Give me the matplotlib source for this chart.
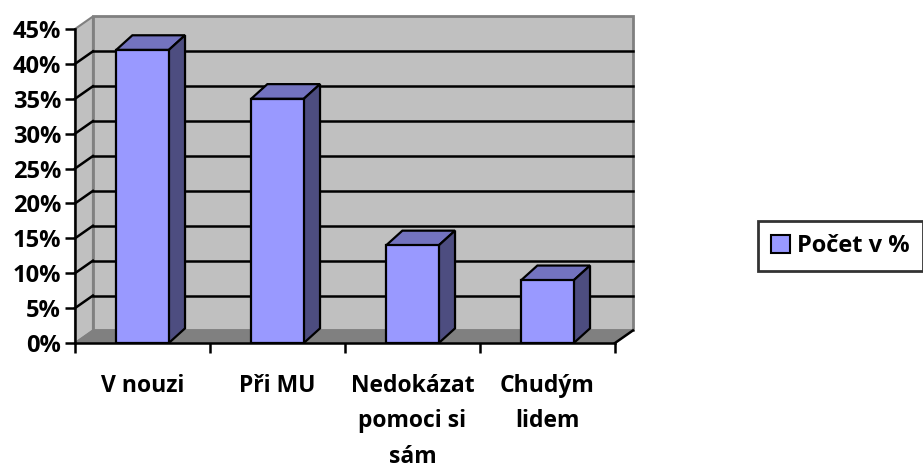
import matplotlib.pyplot as plt
from matplotlib.patches import Polygon, Rectangle, Patch

# Chart data
categories = ["V nouzi", "Při MU", "Nedokázat\npomoci si\nsám", "Chudým\nlidem"]
values = [42, 35, 14, 9]
y_ticks = [0, 5, 10, 15, 20, 25, 30, 35, 40, 45]
legend_label = "Počet v %"

plt.rcParams["font.family"] = ["Open Sans", "DejaVu Sans"]
plt.rcParams["font.weight"] = "bold"

fig = plt.figure(figsize=(9.23, 4.70), dpi=100)
ax = fig.add_axes([75 / 923, 127 / 470, 540 / 923, 314 / 470])

n = len(categories)
ax.set_xlim(0, n)
ax.set_ylim(0, 45)

# depth of the 3D effect in data units
wall_dx, wall_dy = 0.133, 1.8
bar_dx, bar_dy = 0.12, 2.1
bar_w = 0.39

wall_gray = "#c0c0c0"
floor_gray = "#808080"
edge_gray = "#808080"

# left wall
ax.add_patch(Polygon([(0, 0), (wall_dx, wall_dy), (wall_dx, 45 + wall_dy), (0, 45)],
                     closed=True, facecolor=wall_gray, edgecolor=edge_gray,
                     lw=1.5, clip_on=False, zorder=1))
# back wall
ax.add_patch(Rectangle((wall_dx, wall_dy), n, 45, facecolor=wall_gray,
                       edgecolor=edge_gray, lw=2, clip_on=False, zorder=1))
# floor
ax.add_patch(Polygon([(0, 0), (n, 0), (n + wall_dx, wall_dy), (wall_dx, wall_dy)],
                     closed=True, facecolor=floor_gray, edgecolor=edge_gray,
                     lw=1, clip_on=False, zorder=1.5))
ax.plot([n, n + wall_dx], [0, wall_dy], color="black", lw=1.8,
        clip_on=False, zorder=2)

# gridlines on back wall and left wall
for v in y_ticks[1:-1]:
    ax.plot([wall_dx, n + wall_dx], [v + wall_dy, v + wall_dy],
            color="black", lw=1.8, clip_on=False, zorder=2)
    ax.plot([0, wall_dx], [v, v + wall_dy], color="black", lw=1.8,
            clip_on=False, zorder=2)

# bars
x = [i + 0.5 for i in range(n)]
ax.bar(x, values, width=bar_w, color="#9999ff", edgecolor="black",
       lw=1.6, zorder=4)
for xi, v in zip(x, values):
    left = xi - bar_w / 2
    right = xi + bar_w / 2
    ax.add_patch(Polygon([(left, v), (right, v), (right + bar_dx, v + bar_dy),
                          (left + bar_dx, v + bar_dy)], closed=True,
                         facecolor="#7373bf", edgecolor="black", lw=1.6,
                         clip_on=False, zorder=3.5))
    ax.add_patch(Polygon([(right, 0), (right, v), (right + bar_dx, v + bar_dy),
                          (right + bar_dx, bar_dy)], closed=True,
                         facecolor="#4d4d80", edgecolor="black", lw=1.6,
                         clip_on=False, zorder=3.5))

# axes
for side in ["top", "right"]:
    ax.spines[side].set_visible(False)
for side in ["left", "bottom"]:
    ax.spines[side].set_linewidth(1.8)
    ax.spines[side].set_zorder(5)

ax.set_yticks(y_ticks)
ax.set_yticklabels([f"{v}%" for v in y_ticks])
ax.tick_params(axis="y", direction="out", length=7, width=1.8, pad=3,
               labelsize=17)

ax.set_xticks(range(n + 1))
ax.set_xticklabels([])
ax.set_xticks(x, minor=True)
ax.set_xticklabels(categories, minor=True, linespacing=1.65)
ax.tick_params(axis="x", which="major", direction="out", length=7, width=1.8)
ax.tick_params(axis="x", which="minor", length=0, pad=22, labelsize=16.5)

# legend
handle = Patch(facecolor="#9999ff", edgecolor="black", lw=1.5)
leg = fig.legend([handle], [legend_label], loc="center left",
                 bbox_to_anchor=(758 / 923, 1 - 246 / 470), fontsize=17,
                 frameon=True, fancybox=False, handlelength=0.8,
                 handleheight=0.8, handletextpad=0.3, borderpad=0.55,
                 borderaxespad=0)
leg.get_frame().set_edgecolor("black")
leg.get_frame().set_linewidth(2)

fig.savefig("out.png", dpi=100)
